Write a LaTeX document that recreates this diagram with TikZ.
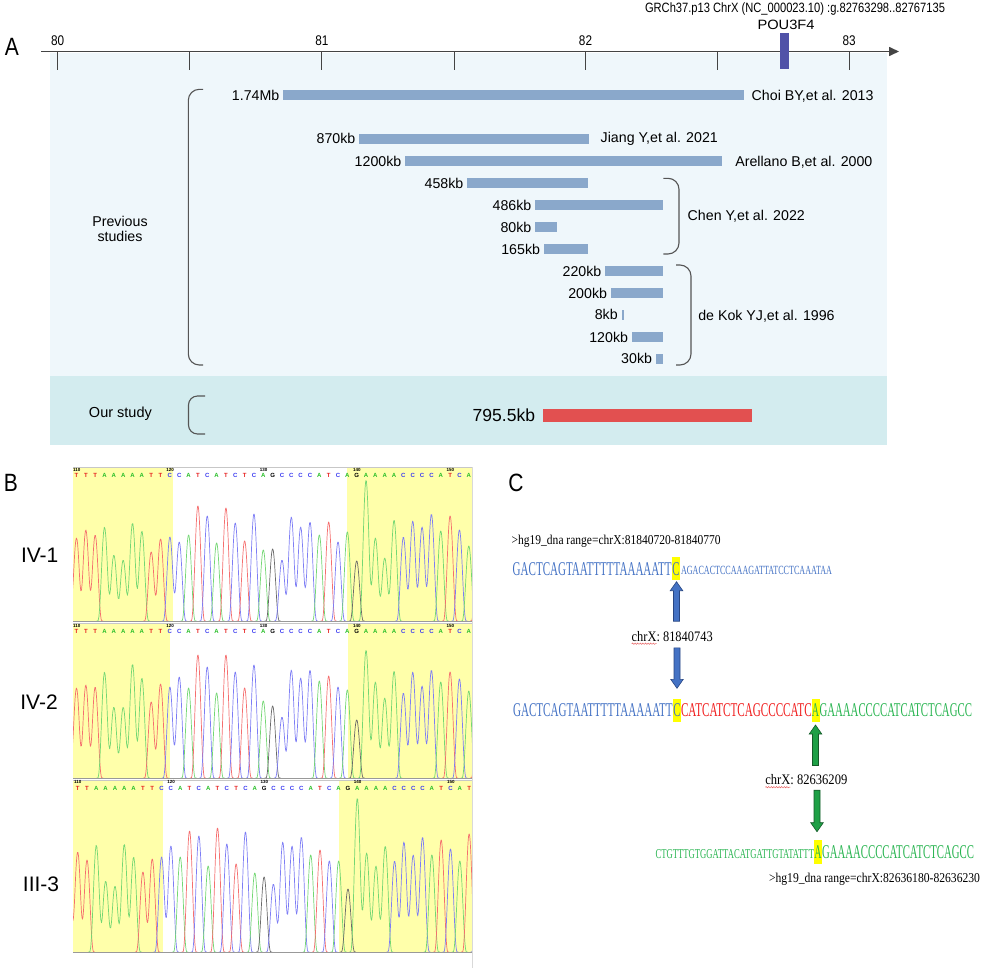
\documentclass[tikz,border=0pt]{standalone}
\usepackage{fontspec}
\setmainfont{Liberation Sans}
\newfontfamily\cond[FakeStretch=0.84]{Liberation Sans}
\newfontfamily\serf{Liberation Serif}
\usetikzlibrary{calc,arrows.meta,decorations.pathmorphing}

\newcommand\fs[1]{\fontsize{#1}{#1}\selectfont}
\newcommand\fitw[2]{\resizebox{#1pt}{\height}{#2}}

\definecolor{panelbg}{RGB}{239,247,251}
\definecolor{bandbg}{RGB}{211,236,239}
\definecolor{barc}{RGB}{138,168,203}
\definecolor{redbar}{RGB}{226,80,80}
\definecolor{poubar}{RGB}{80,82,168}
\definecolor{axisc}{RGB}{68,68,68}
\definecolor{bracec}{RGB}{85,85,85}
\definecolor{chrY}{RGB}{255,255,170}
\definecolor{trA}{RGB}{115,215,115}
\definecolor{trC}{RGB}{125,125,245}
\definecolor{trG}{RGB}{105,105,105}
\definecolor{trT}{RGB}{245,110,110}
\definecolor{ltA}{RGB}{40,190,40}
\definecolor{ltC}{RGB}{60,60,240}
\definecolor{ltG}{RGB}{0,0,0}
\definecolor{ltT}{RGB}{230,30,30}
\definecolor{sqB}{RGB}{68,114,196}
\definecolor{sqR}{RGB}{240,30,30}
\definecolor{sqG}{RGB}{40,180,80}
\definecolor{arB}{RGB}{68,114,196}
\definecolor{arBd}{RGB}{40,70,130}
\definecolor{arG}{RGB}{30,160,70}
\definecolor{arGd}{RGB}{20,90,40}
\definecolor{hly}{RGB}{255,255,0}
\definecolor{wavy}{RGB}{230,90,90}

\tikzset{
  declare function={bq(\z)=max(0,1-(\z)*(\z)/0.5625); bump(\z)=bq(\z)*bq(\z)*bq(\z);},
  trace/.style={line width=0.7pt, line join=round},
  sizelab/.style={font=\fs{14.2}, anchor=base east},
  authlab/.style={font=\fs{14.2}, anchor=base west},
  bracestyle/.style={draw=bracec, line width=1.1pt, rounded corners=11pt},
  ticklab/.style={font=\cond\fs{14}},
  panlab/.style={font=\cond\fs{25}},
  indlab/.style={font=\fs{21}},
  basel/.style={font=\bfseries\fs{6}, anchor=base},
  posl/.style={font=\bfseries\fs{4.5}, anchor=base west},
  seqtxt/.style={anchor=base west, font=\serf},
  hlbox/.style={anchor=base west, fill=hly, font=\serf, minimum width=8pt},
}

% peak runs
\newcommand\settrack[3]{\def\tx{#1}\def\tdx{#2}\def\tb{#3}}
\newcommand\pk[3]{%
  \gdef\texpr{0}\gdef\tn{0}%
  \foreach \hh [count=\kk from 0] in {#3}{%
    \xdef\texpr{\unexpanded\expandafter{\texpr}+\hh*bump(\noexpand\x-\kk)}%
    \xdef\tn{\kk}}%
  \draw[#1, trace] plot[domain=-0.85:\tn+0.85, samples=70] ({\tx+\tdx*((#2)+\x)}, {\tb-(\texpr)});
}
\newcommand\letters[5]{%
  \foreach \c [count=\i from 0] in {#5} {\node[basel, text=lt\c] (#1\i) at ({#2+#3*\i},#4) {\c};}}
\newcommand\posnums[4]{%
  \foreach \n [count=\k from 0] in {110,120,130,140,150} {\node[posl] (#1\k) at ({#2-3.5+#3*10*\k},#4) {\n};}}
\newcommand\pbar[5]{%
  \fill[barc] ({#2},{#4-5}) rectangle ({#3},{#4+5});
  \node[sizelab] (#1) at ({#2-4},{#4+5}) {#5};}
\newcommand\barrow[4]{%
  \draw[draw=#4, fill=#3, line width=0.6pt, line join=miter]
   let \p1=(#1), \p2=(#2), \n1={sign(\y2-(\y1))} in
   ({\x2-3pt},\y1) -- ({\x2-3pt},{\y2-9pt*\n1}) -- ({\x2-6.3pt},{\y2-9pt*\n1}) -- (\x2,\y2)
   -- ({\x2+6.3pt},{\y2-9pt*\n1}) -- ({\x2+3pt},{\y2-9pt*\n1}) -- ({\x2+3pt},\y1) -- cycle;}

\begin{document}
\begin{tikzpicture}[x=1pt, y=-1pt, every node/.style={inner sep=0pt, outer sep=0pt}]
\useasboundingbox (0,0) rectangle (982,969);

% ================= Panel A =================
\fill[panelbg] (50,53) rectangle (887,376);
\fill[bandbg] (50,376) rectangle (887,445);

\node[panlab] (lA) at (12,46.5) {A};
\coordinate (axL) at (41,51.5);
\coordinate (axR) at (899,51.5);
\draw[axisc, line width=1.6pt, -{Triangle[width=9pt,length=10pt]}] (axL) -- (axR);
\foreach \xx [count=\q] in {57.6,189.7,321.9,454,585.5,717.6,849.1}
  \draw[axisc, line width=0.9pt] (\xx,51.5) -- (\xx,70);
\foreach \xx/\t in {57.6/80, 321.9/81, 585.5/82, 849.1/83}
  \node[ticklab] (tl\t) at (\xx,40.5) {\t};
\fill[poubar] (780,33) rectangle (789,69);
\node[font=\cond\fs{13.5}] (pou) at (786,24.5) {\fitw{57}{POU3F4}};
\node[font=\cond\fs{13.5}] (grch) at (795,9.5) {\fitw{300}{GRCh37.p13 ChrX (NC\_000023.10) :g.82763298..82767135}};

\node[font=\fs{14.2}, align=center] (prev) at (120,229) {\fontsize{14.2}{16.5}\selectfont Previous\\studies};
\draw[bracestyle] (203,89.3) -- (188.3,89.3) -- (188.3,365) -- (203,365);

\pbar{b1}{283.3}{744}{95}{1.74Mb}
\pbar{b2}{359.3}{589}{138.7}{870kb}
\pbar{b3}{405.3}{721.7}{161}{1200kb}
\pbar{b4}{467.3}{587.7}{183}{458kb}
\pbar{b5}{535.3}{663.3}{205.3}{486kb}
\pbar{b6}{535.3}{556.7}{227}{80kb}
\pbar{b7}{544}{587.7}{249}{165kb}
\pbar{b8}{605.3}{663.3}{271}{220kb}
\pbar{b9}{611}{663.3}{293}{200kb}
\pbar{b10}{621.7}{623.7}{314.7}{8kb}
\pbar{b11}{632}{663.3}{337}{120kb}
\pbar{b12}{656}{663.3}{358.8}{30kb}

\node[authlab] (au1) at (751.7,100) {Choi BY,et al. 2013};
\node[authlab] (au2) at (600.7,142.3) {Jiang Y,et al. 2021};
\node[authlab] (au3) at (735.3,166) {Arellano B,et al. 2000};
\node[authlab] (au4) at (687.7,220) {Chen Y,et al. 2022};
\node[authlab] (au5) at (698.3,320) {de Kok YJ,et al. 1996};
\draw[bracestyle] (663.3,178.3) -- (679,178.3) -- (679,254) -- (663.3,254);
\draw[bracestyle] (676,265) -- (691,265) -- (691,365) -- (676,365);

\node[font=\fs{14.5}] (ours) at (120.4,414) {Our study};
\draw[bracestyle, rounded corners=9pt] (205,396) -- (188.5,396) -- (188.5,434) -- (205,434);
\node[font=\fs{17.5}, anchor=base east] (k795) at (535,421.5) {795.5kb};
\fill[redbar] (542.6,409.3) rectangle (752,421.7);

% ================= Panel B =================
\node[panlab] (lB) at (11,483) {B};
\node[indlab] (iv1) at (39.7,555) {IV-1};
\node[indlab] (iv2) at (39,702) {IV-2};
\node[indlab] (iii3) at (41,884) {III-3};

% track IV-1
\fill[chrY] (73,467) rectangle (172.7,621);
\fill[chrY] (347.3,467) rectangle (472,621);
\draw[black!22, line width=0.6pt] (73,467) -- (472,467);
\posnums{na}{76.5}{9.34}{471.2}
\letters{qa}{76.5}{9.34}{477.3}{T,T,T,A,A,A,A,A,T,T,C,C,A,T,C,A,T,C,T,C,A,G,C,C,C,C,A,T,C,A,G,A,A,A,A,C,C,C,C,A,T,C,A}
\begin{scope}
\clip (73,467) rectangle (472,621.5);
\settrack{76.5}{9.34}{621}
\pk{trT}{-1}{75,83,91,86}
\pk{trA}{3}{94,66,61,98,90}
\pk{trT}{8}{69,82}
\pk{trC}{10}{84,79}
\pk{trA}{12}{86}
\pk{trT}{13}{115}
\pk{trC}{14}{105}
\pk{trA}{15}{78}
\pk{trT}{16}{113}
\pk{trC}{17}{98}
\pk{trT}{18}{80}
\pk{trC}{19}{107}
\pk{trA}{20}{71}
\pk{trG}{21}{72}
\pk{trC}{22}{61,104,94,99}
\pk{trA}{26}{86}
\pk{trT}{27}{99}
\pk{trC}{28}{79}
\pk{trA}{29}{89}
\pk{trG}{30}{60}
\pk{trA}{31}{141,83,63,101}
\pk{trC}{35}{84,100,94,107}
\pk{trA}{39}{90}
\pk{trT}{40}{105}
\pk{trC}{41}{91}
\pk{trA}{42}{75}
\pk{trT}{43}{95}
\end{scope}
\draw[black!40, line width=0.7pt] (73,621) -- (472,621);

% track IV-2
\fill[chrY] (73,623.5) rectangle (170,778);
\fill[chrY] (347.7,623.5) rectangle (472,778);
\draw[black!22, line width=0.6pt] (73,623.5) -- (472,623.5);
\posnums{nb}{76.5}{9.34}{627.5}
\letters{qb}{76.5}{9.34}{633.8}{T,T,T,A,A,A,A,A,T,T,C,C,A,T,C,A,T,C,T,C,A,G,C,C,C,C,A,T,C,A,G,A,A,A,A,C,C,C,C,A,T,C,A}
\begin{scope}
\clip (73,623.5) rectangle (472,778.5);
\settrack{76.5}{9.34}{778}
\pk{trT}{-1}{80,90,93,91}
\pk{trA}{3}{106,71,71,114,100}
\pk{trT}{8}{76,94}
\pk{trC}{10}{91,101}
\pk{trA}{12}{90}
\pk{trT}{13}{123}
\pk{trC}{14}{111}
\pk{trA}{15}{85}
\pk{trT}{16}{123}
\pk{trC}{17}{106}
\pk{trT}{18}{90}
\pk{trC}{19}{113}
\pk{trA}{20}{77}
\pk{trG}{21}{72}
\pk{trC}{22}{61,108,100,108}
\pk{trA}{26}{97}
\pk{trT}{27}{102}
\pk{trC}{28}{91}
\pk{trA}{29}{88}
\pk{trG}{30}{58}
\pk{trA}{31}{128,96,80,107}
\pk{trC}{35}{85,106,92,108}
\pk{trA}{39}{96}
\pk{trT}{40}{106}
\pk{trC}{41}{99}
\pk{trA}{42}{87}
\pk{trT}{43}{95}
\end{scope}
\draw[black!40, line width=0.7pt] (73,778) -- (472,778);

% track III-3
\fill[chrY] (73,780) rectangle (162.5,952);
\fill[chrY] (338.7,780) rectangle (472,952);
\draw[black!22, line width=0.6pt] (73,780) -- (472,780);
\posnums{nc}{77.7}{9.32}{783.5}
\letters{qc}{77.7}{9.32}{790.3}{T,T,A,A,A,A,A,T,T,C,C,A,T,C,A,T,C,T,C,A,G,C,C,C,C,A,T,C,A,G,A,A,A,A,C,C,C,C,A,T,C,A,T}
\begin{scope}
\clip (73,780) rectangle (472,952.5);
\settrack{77.7}{9.32}{952}
\pk{trT}{-1}{85,100,92}
\pk{trA}{2}{107,71,66,108,95}
\pk{trT}{7}{80,93}
\pk{trC}{9}{95,106}
\pk{trA}{11}{95}
\pk{trT}{12}{121}
\pk{trC}{13}{116}
\pk{trA}{14}{86}
\pk{trT}{15}{124}
\pk{trC}{16}{108}
\pk{trT}{17}{88}
\pk{trC}{18}{120}
\pk{trA}{19}{79}
\pk{trG}{20}{75}
\pk{trC}{21}{68,110,106,115}
\pk{trA}{25}{97}
\pk{trT}{26}{102}
\pk{trC}{27}{91}
\pk{trA}{28}{91}
\pk{trG}{29}{63}
\pk{trA}{30}{154,99,86,106}
\pk{trC}{34}{91,110,97,115}
\pk{trA}{38}{97}
\pk{trT}{39}{112}
\pk{trC}{40}{103}
\pk{trA}{41}{91}
\pk{trT}{42}{118}
\pk{trC}{43}{95}
\end{scope}
\draw[black!40, line width=0.7pt] (73,952) -- (472,952);
\draw[black!15, line width=0.6pt] (472,467) -- (472,968);

% ================= Panel C =================
\node[panlab] (lC) at (516,483) {C};

\node[seqtxt] (h1) at (511.7,544.5) {\fs{13.5}\fitw{209}{>hg19\_dna range=chrX:81840720-81840770}};
\node[seqtxt, text=sqB] (s1a) at (512.7,575) {\fs{19.5}\fitw{159}{GACTCAGTAATTTTTAAAAATT}};
\node[hlbox, text height=18.3pt, text depth=5pt, text=sqB] (hl1) at (672,575) {\fs{19.5}\fitw{7.2}{C}};
\node[seqtxt, text=sqB] (s1b) at (681,574.5) {\fs{12.5}\fitw{151}{AGACACTCCAAAGATTATCCTCAAATAA}};

\node[seqtxt] (lab1) at (631.7,641) {\fs{14.5}\fitw{81}{chrX: 81840743}};
\draw[wavy, line width=0.45pt, decorate, decoration={snake, amplitude=0.7pt, segment length=2.6pt}] (lab1.south west) ++(0,2.5) -- ++(25,0);

\node[seqtxt, text=sqB] (s2a) at (513,716.7) {\fs{19.5}\fitw{159.7}{GACTCAGTAATTTTTAAAAATT}};
\node[hlbox, text height=17.7pt, text depth=5pt, text=sqB] (hl2) at (673,716.7) {\fs{19.5}\fitw{7.2}{C}};
\node[seqtxt, text=sqR] (s2b) at (681,716.7) {\fs{19.5}\fitw{130.7}{CATCATCTCAGCCCCATC}};
\node[hlbox, text height=17.7pt, text depth=5pt, text=sqG] (hl3) at (811.5,716.7) {\fs{19.5}\fitw{7.2}{A}};
\node[seqtxt, text=sqG] (s2c) at (819.5,716.7) {\fs{19.5}\fitw{152.5}{GAAAACCCCATCATCTCAGCC}};

\node[seqtxt] (lab2) at (765.3,784.5) {\fs{14.5}\fitw{82}{chrX: 82636209}};
\draw[wavy, line width=0.45pt, decorate, decoration={snake, amplitude=0.7pt, segment length=2.6pt}] (lab2.south west) ++(0,2.5) -- ++(25,0);

\node[seqtxt, text=sqG] (s3a) at (655.7,858) {\fs{13.5}\fitw{158.3}{CTGTTTGTGGATTACATGATTGTATATTT}};
\node[hlbox, text height=18pt, text depth=6pt, text=sqG] (hl4) at (814,858) {\fs{19.5}\fitw{7.2}{A}};
\node[seqtxt, text=sqG] (s3b) at (822,858) {\fs{19.5}\fitw{152}{GAAAACCCCATCATCTCAGCC}};
\node[seqtxt] (h2) at (769,882) {\fs{13.5}\fitw{211}{>hg19\_dna range=chrX:82636180-82636230}};

% block arrows
\coordinate (a1tip) at ($(hl1.south)+(0.5,1.7)$);
\coordinate (a1tail) at ($(hl1.south |- lab1.north)+(0.5,-9.7)$);
\barrow{a1tail}{a1tip}{arB}{arBd}
\coordinate (a2tail) at ($(hl2.north |- lab1.south)+(0,6.7)$);
\coordinate (a2tip) at ($(hl2.north)+(0,-10.7)$);
\barrow{a2tail}{a2tip}{arB}{arBd}
\coordinate (a3tip) at ($(hl3.south)+(0,3.3)$);
\coordinate (a3tail) at ($(hl3.south |- lab2.north)+(0,-8.9)$);
\barrow{a3tail}{a3tip}{arG}{arGd}
\coordinate (a4tail) at ($(hl4.north |- lab2.south)+(-1,5.5)$);
\coordinate (a4tip) at ($(hl4.north)+(-1,-8.3)$);
\barrow{a4tail}{a4tip}{arG}{arGd}
\end{tikzpicture}
\end{document}
